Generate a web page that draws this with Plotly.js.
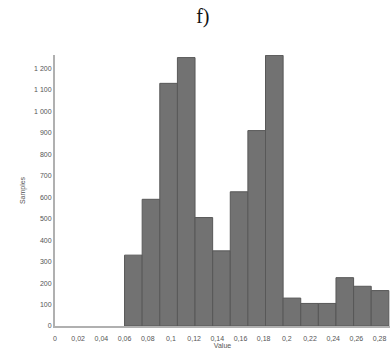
<!DOCTYPE html>
<html>
<head>
<meta charset="utf-8">
<script src="https://cdn.plot.ly/plotly-3.0.1.min.js"></script>
<style>html,body{margin:0;padding:0;background:#fff;}#chart{width:390px;height:356px;}</style>
</head>
<body>
<div id="chart"></div>
<script>
// Histogram bin centres (Value) and counts (Samples)
const binCenters = [0.0676, 0.0828, 0.098, 0.1132, 0.1284, 0.1436, 0.1588, 0.174, 0.1892, 0.2044, 0.2196, 0.2348, 0.25, 0.2652, 0.2804];
const counts = [330, 590, 1130, 1250, 505, 350, 625, 910, 1260, 130, 105, 105, 225, 185, 165];
const xTicks = [0, 0.02, 0.04, 0.06, 0.08, 0.1, 0.12, 0.14, 0.16, 0.18, 0.2, 0.22, 0.24, 0.26, 0.28];
const yTicks = [0, 100, 200, 300, 400, 500, 600, 700, 800, 900, 1000, 1100, 1200];

const trace = {
  type: 'bar',
  x: binCenters,
  y: counts,
  width: 0.0152,
  marker: {color: '#727272', line: {color: '#585858', width: 1}},
  hoverinfo: 'x+y'
};

const layout = {
  width: 390, height: 356,
  margin: {l: 55, r: 0, t: 55, b: 30},
  paper_bgcolor: '#fff', plot_bgcolor: '#fff',
  separators: ', ',
  bargap: 0,
  showlegend: false,
  title: {text: 'f)', x: 0.52, xanchor: 'center', y: 0.955, yanchor: 'middle',
          font: {family: 'Liberation Serif, DejaVu Serif, serif', size: 20, color: '#111'}},
  font: {family: 'Liberation Sans, Arial, sans-serif', size: 7, color: '#555'},
  xaxis: {
    range: [0, 0.289],
    tickvals: xTicks,
    ticktext: xTicks.map(v => String(v).replace('.', ',')),
    showgrid: false, zeroline: false,
    showline: true, linecolor: '#b0b0b0', linewidth: 2,
    ticks: '', ticklabelstandoff: 5, tickfont: {size: 7, color: '#555'},
    title: {text: 'Value', font: {size: 7, color: '#555'}, standoff: 1}
  },
  yaxis: {
    range: [0, 1262],
    tickvals: yTicks,
    ticktext: yTicks.map(v => v >= 1000 ? (Math.floor(v/1000) + ' ' + String(v % 1000).padStart(3, '0')) : String(v)),
    showgrid: false, zeroline: false,
    showline: true, linecolor: '#b0b0b0', linewidth: 2,
    ticks: '', tickfont: {size: 7, color: '#555'},
    title: {text: 'Samples', font: {size: 7, color: '#555'}, standoff: 8}
  }
};

Plotly.newPlot('chart', [trace], layout, {displayModeBar: false, staticPlot: true});
</script>
</body>
</html>
